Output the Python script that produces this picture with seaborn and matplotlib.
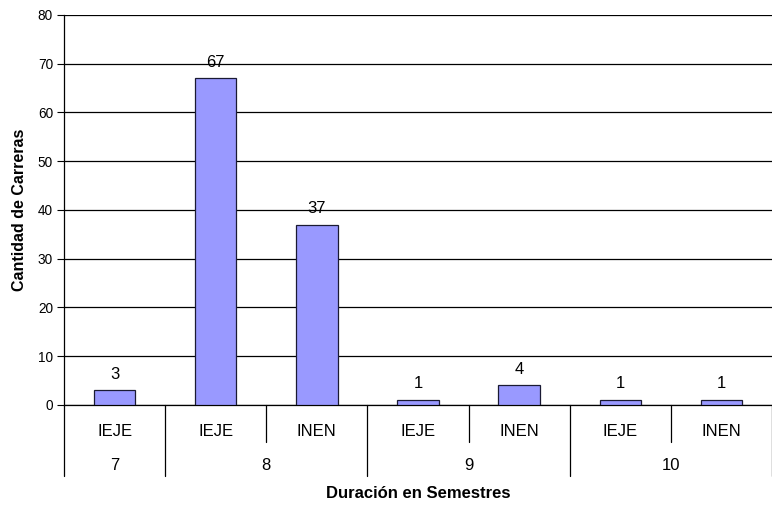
import matplotlib
matplotlib.use("Agg")
import matplotlib.pyplot as plt
import matplotlib.transforms as mtransforms
import seaborn as sns
import pandas as pd

# Careers by duration (semesters) and type
semestres = ["7", "8", "8", "9", "9", "10", "10"]
tipos = ["IEJE", "IEJE", "INEN", "IEJE", "INEN", "IEJE", "INEN"]
carreras = [3, 67, 37, 1, 4, 1, 1]
grupos = ["7", "8", "9", "10"]
y_ticks = [0, 10, 20, 30, 40, 50, 60, 70, 80]

sns.set_theme(style="white")
plt.rcParams["font.family"] = ["Liberation Sans", "DejaVu Sans"]
plt.rcParams["text.color"] = "black"
plt.rcParams["axes.labelcolor"] = "black"
plt.rcParams["ytick.color"] = "black"

df = pd.DataFrame({
    "slot": [f"{s}-{t}" for s, t in zip(semestres, tipos)],
    "semestre": semestres,
    "tipo": tipos,
    "carreras": carreras,
})

fig = plt.figure(figsize=(7.72, 5.08), dpi=100)
ax = fig.add_axes([0.0829, 0.2028, 0.9171, 0.7677])

sns.barplot(data=df, x="slot", y="carreras", order=df["slot"], color="#9999FF",
            saturation=1, width=0.41, edgecolor="#1a1a33", linewidth=0.9, ax=ax,
            zorder=3)

ax.set_ylim(0, 80)
ax.set_xlim(-0.5, len(df) - 0.5)
ax.set_yticks(y_ticks)
ax.set_yticklabels([str(v) for v in y_ticks], fontsize=9.8)
ax.tick_params(axis="y", length=5, width=0.8, color="black", direction="out", pad=3, left=True)
ax.tick_params(axis="x", bottom=False, labelbottom=False)
ax.yaxis.grid(True, color="black", linewidth=0.9)
ax.set_axisbelow(True)

for side in ["top", "right"]:
    ax.spines[side].set_visible(False)
for side in ["left", "bottom"]:
    ax.spines[side].set_color("black")
    ax.spines[side].set_linewidth(0.9)

# value labels
for i, v in enumerate(carreras):
    ax.text(i, v + 1.8, str(v), ha="center", va="bottom", fontsize=12, color="black")

trans = mtransforms.blended_transform_factory(ax.transData, ax.transAxes)

# category label rows
for i, t in enumerate(tipos):
    ax.text(i, -0.069, t, transform=trans, ha="center", va="center", fontsize=12)

positions = {}
for i, s in enumerate(semestres):
    positions.setdefault(s, []).append(i)
for g in grupos:
    idx = positions[g]
    ax.text(sum(idx) / len(idx), -0.156, g, transform=trans, ha="center",
            va="center", fontsize=12)

# separators between categories
for b in range(len(semestres) + 1):
    x = b - 0.5
    if b == 0 or b == len(semestres) or semestres[b] != semestres[b - 1]:
        y_end = -0.182
    else:
        y_end = -0.095
    ax.plot([x, x], [0, y_end], transform=trans, color="black", linewidth=0.9,
            clip_on=False)

ax.set_xlabel("")
ax.set_ylabel("Cantidad de Carreras", fontsize=11.5, fontweight="bold", labelpad=8)
ax.text(0.5, -0.228, "Duración en Semestres", transform=ax.transAxes, ha="center",
        va="center", fontsize=12, fontweight="bold")

fig.savefig("out.png", dpi=100)
